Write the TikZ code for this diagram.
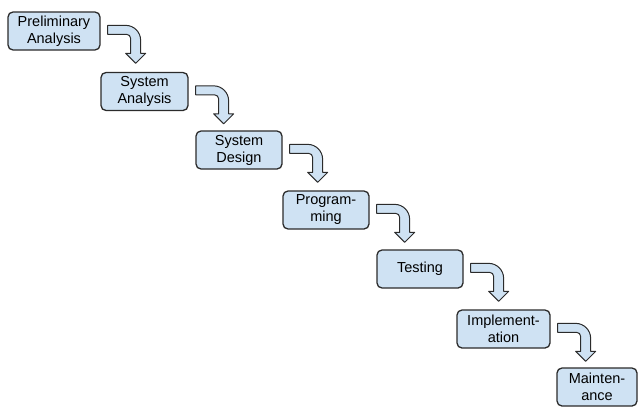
\documentclass[tikz,border=0pt]{standalone}
\usepackage{fontspec}
\setmainfont{Liberation Sans}

\definecolor{phaseblue}{HTML}{CFE2F3}
\definecolor{edgegray}{HTML}{2B2B2B}

\tikzset{
  phase/.style={draw=edgegray, fill=phaseblue, line width=1.3pt, rounded corners=5pt,
    minimum width=86pt, minimum height=38pt, inner sep=0pt, align=center,
    font=\fontsize{14.5}{17}\selectfont},
  bent/.style={draw=edgegray, fill=phaseblue, line width=1pt, line join=round}
}

% bent block arrow from the right side of a box down to the next one
\newcommand\bentarrow[1]{%
  \begin{scope}[shift={(#1.north east)}]
    \draw[bent] (7,14) -- (25,14) arc(-90:0:15) -- (40,42) -- (45,42) -- (35,52)
      -- (25,42) -- (30,42) -- (30,27) arc(0:-90:4) -- (7,23) -- cycle;
  \end{scope}}

\begin{document}
\begin{tikzpicture}[x=1pt, y=-1pt]
  \useasboundingbox (0,0) rectangle (639,407);

  \node[phase, minimum width=92pt] (prelim) at (54,31) {Preliminary\\Analysis};
  \node[phase, minimum width=87pt] (sysan) at (144.5,91.5) {System\\Analysis};
  \node[phase] (sysdes) at (239,150) {System\\Design};
  \node[phase] (prog) at (326,210) {Program-\\ming};
  \node[phase] (test) at (420,269) {Testing};
  \node[phase, minimum width=93pt] (impl) at (503.5,329) {Implement-\\ation};
  \node[phase, minimum width=80pt] (maint) at (597,387) {Mainten-\\ance};

  \bentarrow{prelim}
  \bentarrow{sysan}
  \bentarrow{sysdes}
  \bentarrow{prog}
  \bentarrow{test}
  \bentarrow{impl}
\end{tikzpicture}
\end{document}
